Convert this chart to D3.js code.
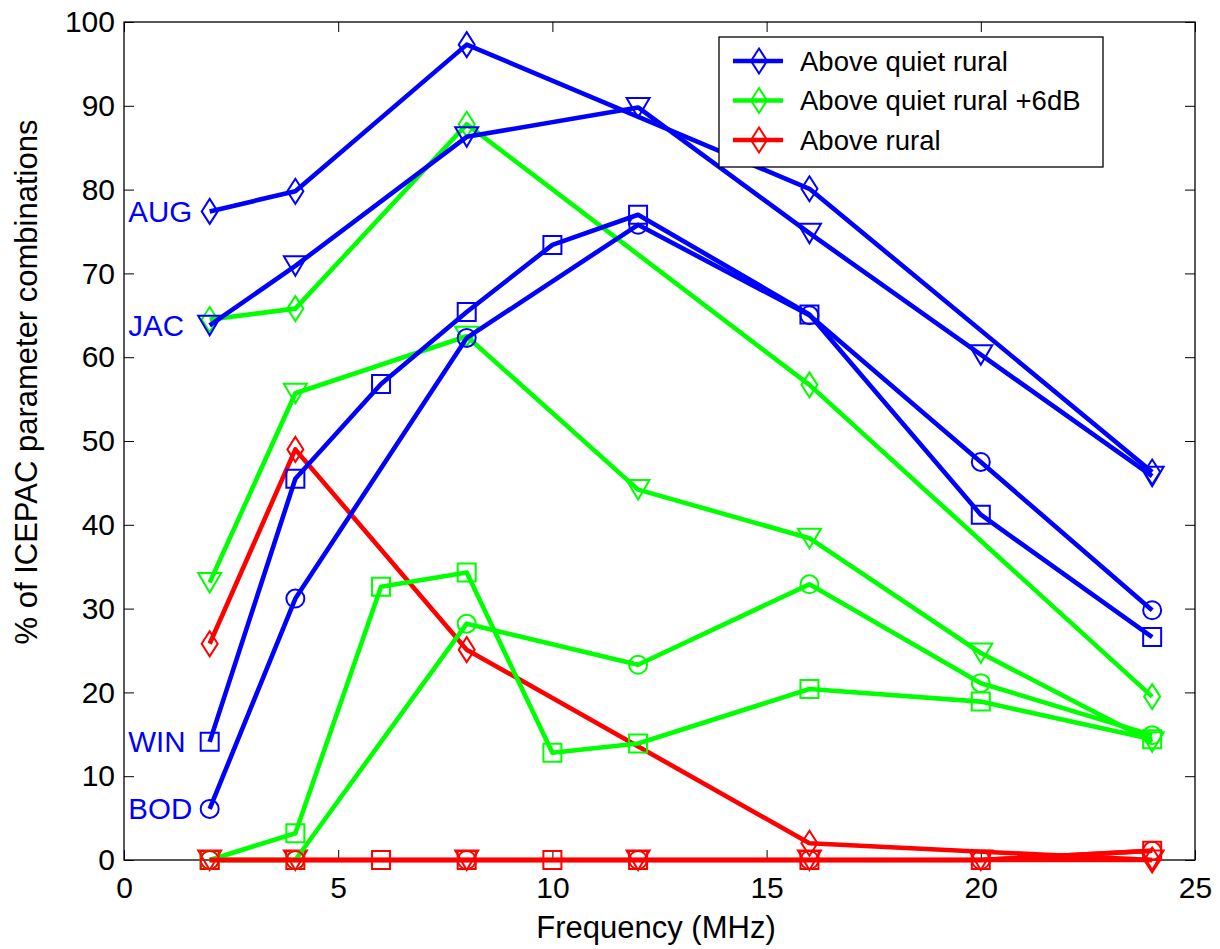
<!DOCTYPE html>
<html>
<head>
<meta charset="utf-8">
<script src="https://cdn.jsdelivr.net/npm/d3@7"></script>
<style>
  html, body { margin: 0; padding: 0; background: #fff; }
  svg { display: block; }
  text { font-family: "Liberation Sans", Arial, Helvetica, sans-serif; }
</style>
</head>
<body>
<svg id="chart" width="1220" height="949"></svg>
<script>
// ---------------- data ----------------
const sites = ["AUG", "JAC", "WIN", "BOD"];
const siteMarkers = ["diamond", "triangle", "square", "circle"];

const xAUG = [2, 4, 8, 16, 24];
const xJAC = [2, 4, 8, 12, 16, 20, 24];
const xWIN = [2, 4, 6, 8, 10, 12, 16, 20, 24];
const xBOD = [2, 4, 8, 12, 16, 20, 24];

// Above quiet rural (blue)
const quietAUG = [77.4, 79.8, 97.3, 80.1, 46.3];
const quietJAC = [63.8, 70.9, 86.3, 89.8, 74.8, 60.3, 45.8];
const quietWIN = [14.1, 45.5, 56.8, 65.4, 73.4, 77.0, 65.1, 41.2, 26.6];
const quietBOD = [6.1, 31.2, 62.3, 75.8, 65.0, 47.5, 29.8];

// Above quiet rural +6dB (green)
const plus6AUG = [64.5, 65.8, 87.8, 56.7, 19.5];
const plus6JAC = [33.1, 55.7, 62.5, 44.2, 38.4, 24.7, 14.1];
const plus6WIN = [0, 3.2, 32.6, 34.3, 12.8, 13.9, 20.4, 18.9, 14.4];
const plus6BOD = [0, 0, 28.2, 23.3, 32.9, 21.1, 14.9];

// Above rural (red)
const ruralAUG = [25.8, 49.0, 25.1, 2.0, 0];
const ruralJAC = [0, 0, 0, 0, 0, 0, 0];
const ruralWIN = [0, 0, 0, 0, 0, 0, 0, 0, 1.1];
const ruralBOD = [0, 0, 0, 0, 0, 0, 1.1];

const groupNames = ["Above quiet rural", "Above quiet rural +6dB", "Above rural"];
const groupColors = ["#0000ff", "#00ff00", "#ff0000"];

const xTicks = [0, 5, 10, 15, 20, 25];
const yTicks = [0, 10, 20, 30, 40, 50, 60, 70, 80, 90, 100];
const xLabel = "Frequency (MHz)";
const yLabel = "% of ICEPAC parameter combinations";

// ---------------- layout ----------------
const svg = d3.select("#chart");
const L = 124, R = 1195, T = 22, B = 860;
const x = d3.scaleLinear().domain([0, 25]).range([L, R]);
const y = d3.scaleLinear().domain([0, 100]).range([B, T]);
const TICKFONT = 30, LABELFONT = 31, LEGFONT = 27.5, SITEFONT = 29.5;

const siteX = { AUG: xAUG, JAC: xJAC, WIN: xWIN, BOD: xBOD };
const groupVals = [
  { AUG: quietAUG, JAC: quietJAC, WIN: quietWIN, BOD: quietBOD },
  { AUG: plus6AUG, JAC: plus6JAC, WIN: plus6WIN, BOD: plus6BOD },
  { AUG: ruralAUG, JAC: ruralJAC, WIN: ruralWIN, BOD: ruralBOD }
];

function markerPath(type) {
  switch (type) {
    case "diamond": return "M0,-12.5L8,0L0,12.5L-8,0Z";
    case "triangle": return "M-11.5,-9.5L11.5,-9.5L0,10Z";
    case "square": return "M-9,-9L9,-9L9,9L-9,9Z";
    case "circle": { const p = d3.path(); p.arc(0, 0, 9, 0, 2 * Math.PI); p.closePath(); return p.toString(); }
  }
}

// ---------------- axes ----------------
const gx = svg.append("g").attr("transform", `translate(0,${B})`)
  .call(d3.axisBottom(x).tickValues(xTicks).tickSizeInner(-10).tickSizeOuter(0).tickPadding(17).tickFormat(d3.format("d")));
const gxt = svg.append("g").attr("transform", `translate(0,${T})`)
  .call(d3.axisTop(x).tickValues(xTicks).tickSizeInner(-10).tickSizeOuter(0).tickFormat(""));
const gy = svg.append("g").attr("transform", `translate(${L},0)`)
  .call(d3.axisLeft(y).tickValues(yTicks).tickSizeInner(-10).tickSizeOuter(0).tickPadding(9).tickFormat(d3.format("d")));
const gyr = svg.append("g").attr("transform", `translate(${R},0)`)
  .call(d3.axisRight(y).tickValues(yTicks).tickSizeInner(-10).tickSizeOuter(0).tickFormat(""));

[gx, gxt, gy, gyr].forEach(g => {
  g.select(".domain").remove();
  g.selectAll(".tick line").attr("stroke", "#000").attr("stroke-width", 1);
  g.selectAll(".tick text").attr("fill", "#000").style("font-size", TICKFONT + "px")
    .style("font-family", '"Liberation Sans", Arial, Helvetica, sans-serif');
});

svg.append("rect").attr("x", L).attr("y", T).attr("width", R - L).attr("height", B - T)
  .attr("fill", "none").attr("stroke", "#000").attr("stroke-width", 1.3);

svg.append("text").attr("x", 656).attr("y", 938).attr("text-anchor", "middle")
  .style("font-size", LABELFONT + "px").text(xLabel);
svg.append("text").attr("transform", `translate(37,382) rotate(-90)`)
  .attr("text-anchor", "middle").style("font-size", LABELFONT + "px").text(yLabel);

// ---------------- series ----------------
const line = d3.line().x(d => x(d[0])).y(d => y(d[1]));
const plot = svg.append("g");

sites.forEach((site, si) => {
  groupVals.forEach((gv, gi) => {
    const pts = siteX[site].map((xv, i) => [xv, gv[site][i]]);
    const col = groupColors[gi];
    plot.append("path").datum(pts).attr("d", line)
      .attr("fill", "none").attr("stroke", col).attr("stroke-width", 4.6)
      .attr("stroke-linejoin", "round");
    plot.selectAll(null).data(pts).enter().append("path")
      .attr("transform", d => `translate(${x(d[0])},${y(d[1])})`)
      .attr("d", markerPath(siteMarkers[si]))
      .attr("fill", "none").attr("stroke", col).attr("stroke-width", 2);
  });
});

// site labels
sites.forEach(site => {
  svg.append("text").attr("x", x(0.1)).attr("y", y(groupVals[0][site][0]))
    .attr("dominant-baseline", "central").attr("fill", "#0000ff")
    .style("font-size", SITEFONT + "px").text(site);
});

// ---------------- legend ----------------
const lg = svg.append("g");
lg.append("rect").attr("x", 719).attr("y", 37).attr("width", 384).attr("height", 130)
  .attr("fill", "#fff").attr("stroke", "#000").attr("stroke-width", 1.3);
groupNames.forEach((name, i) => {
  const cy = 61 + i * 39.5;
  lg.append("line").attr("x1", 733).attr("x2", 783).attr("y1", cy).attr("y2", cy)
    .attr("stroke", groupColors[i]).attr("stroke-width", 4.6);
  lg.append("path").attr("transform", `translate(759,${cy})`).attr("d", markerPath("diamond"))
    .attr("fill", "none").attr("stroke", groupColors[i]).attr("stroke-width", 2);
  lg.append("text").attr("x", 800).attr("y", cy).attr("dominant-baseline", "central")
    .style("font-size", LEGFONT + "px").text(name);
});
</script>
</body>
</html>
